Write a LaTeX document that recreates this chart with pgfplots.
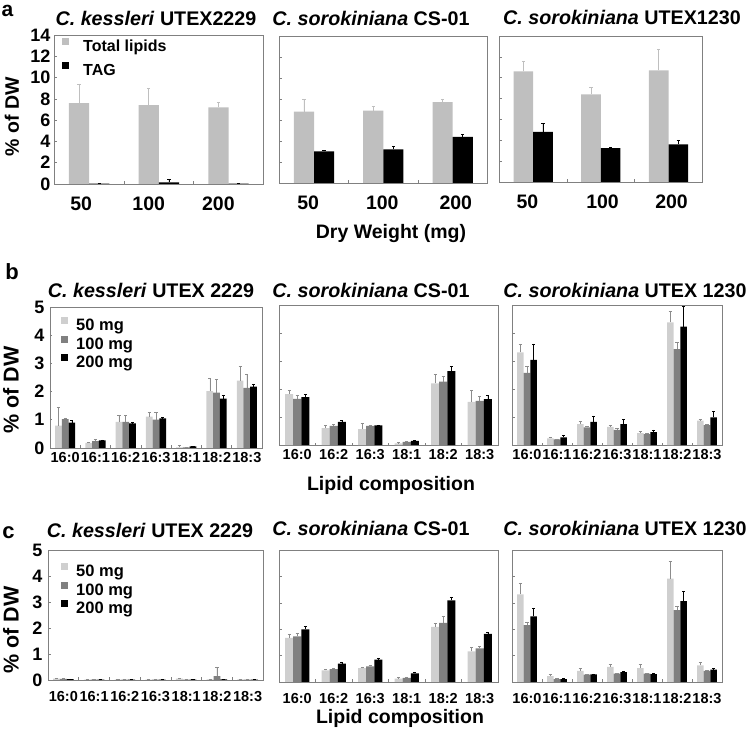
\documentclass[border=0pt]{standalone}
\usepackage{pgfplots}
\pgfplotsset{compat=1.18}
\usepackage{pgfplotstable}
\usepackage{fontspec}
\setmainfont{Liberation Sans}
\definecolor{agray}{gray}{0.75}
\definecolor{lgray}{gray}{0.81}
\definecolor{mgray}{gray}{0.50}
\definecolor{framec}{gray}{0.50}
\definecolor{errg}{gray}{0.55}
\newcommand\fs[1]{\fontsize{#1}{#1}\selectfont\bfseries}

% columns: x, 50 mg (l, le), 100 mg (m, me), 200 mg (k, ke)
\pgfplotstableread{
x l le m me k ke
0 0.79 0.65 1.02 0.05 0.90 0.09
1 0.18 0.03 0.24 0.06 0.27 0.02
2 0.93 0.24 0.93 0.24 0.87 0.03
3 1.11 0.14 1.01 0.26 1.05 0.03
4 0.02 0.08 0.02 0.01 0.06 0.01
5 2.02 0.46 1.96 0.48 1.75 0.13
6 2.39 0.50 2.13 0.50 2.18 0.09
}\bone
\pgfplotstableread{
x l le m me k ke
0 1.82 0.14 1.65 0.14 1.71 0.10
1 0.60 0.11 0.68 0.05 0.83 0.04
2 0.57 0.20 0.68 0.03 0.70 0.02
3 0.06 0.02 0.11 0.02 0.15 0.02
4 2.20 0.34 2.26 0.18 2.64 0.16
5 1.54 0.40 1.58 0.17 1.64 0.12
}\btwo
\pgfplotstableread{
x l le m me k ke
0 3.31 0.30 2.58 0.22 3.04 0.57
1 0.24 0.04 0.20 0.02 0.27 0.09
2 0.75 0.08 0.63 0.04 0.83 0.21
3 0.65 0.05 0.54 0.04 0.75 0.17
4 0.42 0.06 0.39 0.03 0.46 0.08
5 4.38 0.38 3.42 0.25 4.23 0.73
6 0.87 0.04 0.71 0.03 0.99 0.20
}\bthree
\pgfplotstableread{
x l le m me k ke
0 0.05 0.02 0.04 0.01 0.03 0.01
1 0.01 0.00 0.01 0.00 0.01 0.00
2 0.01 0.00 0.01 0.00 0.01 0.00
3 0.01 0.00 0.01 0.00 0.01 0.00
4 0.05 0.01 0.01 0.00 0.01 0.00
5 0.02 0.01 0.15 0.35 0.02 0.01
6 0.02 0.01 0.01 0.00 0.01 0.00
}\cone
\pgfplotstableread{
x l le m me k ke
0 1.67 0.15 1.73 0.13 1.99 0.12
1 0.44 0.05 0.49 0.03 0.70 0.06
2 0.53 0.04 0.59 0.04 0.85 0.06
3 0.13 0.03 0.16 0.03 0.33 0.05
4 2.09 0.15 2.24 0.25 3.09 0.13
5 1.16 0.16 1.27 0.08 1.82 0.08
}\ctwo
\pgfplotstableread{
x l le m me k ke
0 3.32 0.40 2.15 0.13 2.49 0.32
1 0.22 0.06 0.11 0.02 0.11 0.02
2 0.42 0.09 0.28 0.02 0.29 0.02
3 0.57 0.09 0.32 0.02 0.37 0.03
4 0.53 0.13 0.32 0.02 0.30 0.02
5 3.92 0.66 2.72 0.15 3.06 0.36
6 0.63 0.13 0.42 0.03 0.47 0.03
}\cthree

\pgfplotsset{
 errc/.style={/pgfplots/error bars/y dir=plus, /pgfplots/error bars/y explicit,
   /pgfplots/error bars/error bar style={draw=#1, line width=0.6pt},
   /pgfplots/error bars/error mark options={draw=#1, rotate=90, mark size=1.6pt, line width=0.6pt}},
 panel/.style={scale only axis, anchor=north west, ymin=0, ybar,
   axis line style={draw=framec, line width=0.8pt},
   tick style={draw=framec, line width=0.6pt},
   tick align=inside, xtick pos=bottom, ytick pos=left,
   major tick length=0pt, minor tick length=2.5pt,
   /pgf/number format/assume math mode=true,
   legend image code/.code={\fill[##1] (0pt,2.5pt) rectangle (7pt,9.5pt);},
   legend cell align=left},
 panelA/.style={panel, xmin=-0.36, xmax=2.64, ymax=14, bar width=0.29,
   ytick={0,2,...,14}, minor ytick={2,4,...,12}, minor xtick={0.645,1.645},
   xticklabels={50,100,200},
   xticklabel style={font=\fs{19.5}, yshift=-9.5pt},
   yticklabel style={font=\fs{18}}},
 panelB/.style={panel, ymax=5, bar width=0.222,
   ytick={0,1,...,5}, minor ytick={1,2,3,4},
   yticklabel style={font=\fs{18}, xshift=-2pt}},
 seven/.style={xmin=-0.5, xmax=6.5, xtick={0,...,6}, minor xtick={0.5,1.5,...,5.5},
   xticklabels={16:0,16:1,16:2,16:3,18:1,18:2,18:3}},
 six/.style={xmin=-0.5, xmax=5.5, xtick={0,...,5}, minor xtick={0.5,1.5,...,4.5},
   xticklabels={16:0,16:2,16:3,18:1,18:2,18:3}},
 legA/.style={legend style={draw=none, fill=none, at={(0,1)}, anchor=north west,
   xshift=8pt, yshift=-3pt, inner sep=0pt, row sep=6pt, column sep=14pt,
   font=\fs{16}, nodes={inner sep=0pt, text height=12pt, text depth=4pt}}},
 legB/.style={legend style={draw=none, fill=none, at={(0,1)}, anchor=north west,
   xshift=#1, inner sep=0pt, row sep=1pt, column sep=8pt,
   font=\fs{16.5}, nodes={inner sep=0pt, text height=12pt, text depth=4pt}}},
}
\newcommand\threebars[1]{%
 \addplot[fill=lgray, draw=none, bar shift=-0.222, errc=errg] table[x=x, y=l, y error=le]{#1};
 \addplot[fill=mgray, draw=none, bar shift=0, errc=errg] table[x=x, y=m, y error=me]{#1};
 \addplot[fill=black, draw=none, bar shift=0.222, errc=black] table[x=x, y=k, y error=ke]{#1};
}

\begin{document}
\begin{tikzpicture}[x=1pt,y=1pt]
\path[use as bounding box] (0,0) rectangle (750,732);

% ---------------- panel a ----------------
\begin{axis}[panelA, at={(54pt,697pt)}, width=209pt, height=149pt,
  xtick={0.03,1,2}, legA]
 \addplot[fill=agray, draw=none, bar shift=0, errc=agray] coordinates {(0,7.6) +- (0,1.8) (1,7.4) +- (0,1.6) (2,7.2) +- (0,0.5)};
 \addplot[fill=black, draw=none, bar shift=0.29, errc=black] coordinates {(0,0.04) +- (0,0.01) (1,0.15) +- (0,0.25) (2,0.04) +- (0,0.01)};
 \legend{Total lipids, TAG}
\end{axis}
\begin{axis}[panelA, at={(279pt,696pt)}, width=208pt, height=147pt,
  xtick={0.06,1.13,2.19}, yticklabels={}]
 \addplot[fill=agray, draw=none, bar shift=0, errc=agray] coordinates {(0,6.8) +- (0,1.2) (1,6.9) +- (0,0.4) (2,7.7) +- (0,0.3)};
 \addplot[fill=black, draw=none, bar shift=0.29, errc=black] coordinates {(0,3.0) +- (0,0.1) (1,3.2) +- (0,0.3) (2,4.4) +- (0,0.2)};
\end{axis}
\begin{axis}[panelA, at={(499pt,696pt)}, width=203pt, height=146pt,
  xtick={0.06,1.17,2.19}, yticklabels={}]
 \addplot[fill=agray, draw=none, bar shift=0, errc=agray] coordinates {(0,10.6) +- (0,1.0) (1,8.4) +- (0,0.7) (2,10.7) +- (0,2.0)};
 \addplot[fill=black, draw=none, bar shift=0.29, errc=black] coordinates {(0,4.8) +- (0,0.8) (1,3.25) +- (0,0.1) (2,3.6) +- (0,0.4)};
\end{axis}

% ---------------- panel b ----------------
\begin{axis}[panelB, seven, at={(50pt,425pt)}, width=212pt, height=141pt,
  xticklabel style={font=\fs{14.5}, yshift=-1pt}, legB=11pt, legend style={yshift=-10pt}]
 \threebars{\bone}
 \legend{50 mg, 100 mg, 200 mg}
\end{axis}
\begin{axis}[panelB, six, at={(279pt,427pt)}, width=219pt, height=140pt,
  xticklabel style={font=\fs{14.5}, yshift=-1pt}, yticklabels={}]
 \threebars{\btwo}
\end{axis}
\begin{axis}[panelB, seven, at={(512pt,427pt)}, width=210pt, height=140pt,
  xticklabel style={font=\fs{14.5}, yshift=-1pt}, yticklabels={}]
 \threebars{\bthree}
\end{axis}

% ---------------- panel c ----------------
\begin{axis}[panelB, seven, at={(48pt,182pt)}, width=215pt, height=130pt,
  xticklabel style={font=\fs{14.5}, yshift=-8pt}, legB=13pt, legend style={yshift=-13pt}]
 \threebars{\cone}
 \legend{50 mg, 100 mg, 200 mg}
\end{axis}
\begin{axis}[panelB, six, at={(279pt,182pt)}, width=219pt, height=132pt,
  xticklabel style={font=\fs{14.5}, yshift=-8pt}, yticklabels={}]
 \threebars{\ctwo}
\end{axis}
\begin{axis}[panelB, seven, at={(512pt,182pt)}, width=210pt, height=132pt,
  xticklabel style={font=\fs{14.5}, yshift=-8pt}, yticklabels={}]
 \threebars{\cthree}
\end{axis}

% ---------------- texts ----------------
\node[font=\fs{21}, inner sep=0pt] at (7.5,721) {a};
\node[font=\fs{22}, inner sep=0pt] at (12,460) {b};
\node[font=\fs{22}, inner sep=0pt] at (8.5,199) {c};

\node[font=\fs{19.7}, inner sep=0pt] at (156,714) {\textit{C. kessleri} UTEX2229};
\node[font=\fs{19.7}, inner sep=0pt] at (371,714) {\textit{C. sorokiniana} CS-01};
\node[font=\fs{19.7}, inner sep=0pt] at (622,715) {\textit{C. sorokiniana} UTEX1230};
\node[font=\fs{19.7}, inner sep=0pt] at (151,442) {\textit{C. kessleri} UTEX 2229};
\node[font=\fs{19.7}, inner sep=0pt] at (371,442) {\textit{C. sorokiniana} CS-01};
\node[font=\fs{19.7}, inner sep=0pt] at (625,442) {\textit{C. sorokiniana} UTEX 1230};
\node[font=\fs{19.7}, inner sep=0pt] at (150,202) {\textit{C. kessleri} UTEX 2229};
\node[font=\fs{19.7}, inner sep=0pt] at (371,204) {\textit{C. sorokiniana} CS-01};
\node[font=\fs{19.7}, inner sep=0pt] at (625,204) {\textit{C. sorokiniana} UTEX 1230};

\node[font=\fs{19.5}, rotate=90, inner sep=0pt] at (12,615) {\% of DW};
\node[font=\fs{21.5}, rotate=90, inner sep=0pt] at (11,342) {\% of DW};
\node[font=\fs{21.5}, rotate=90, inner sep=0pt] at (11,102) {\% of DW};

\node[font=\fs{19.5}, inner sep=0pt] at (391,498) {Dry Weight (mg)};
\node[font=\fs{19.5}, inner sep=0pt] at (391,247) {Lipid composition};
\node[font=\fs{19.5}, inner sep=0pt] at (400,14) {Lipid composition};
\end{tikzpicture}
\end{document}
